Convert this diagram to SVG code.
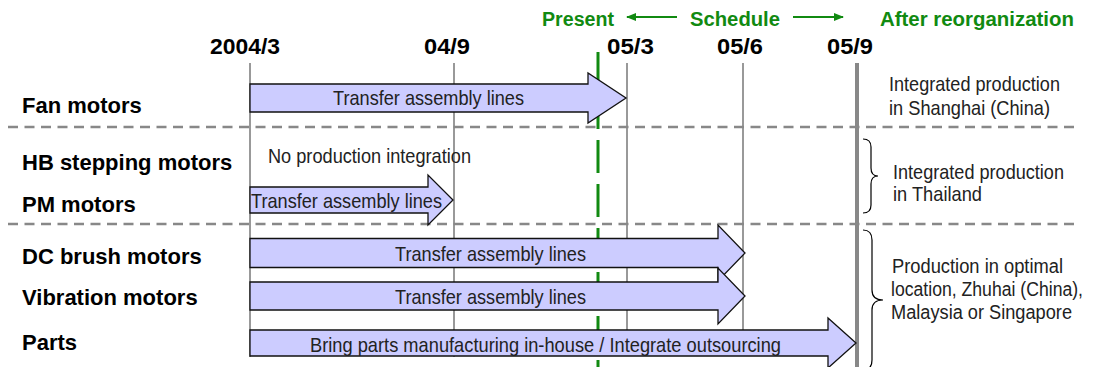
<svg xmlns="http://www.w3.org/2000/svg" width="1094" height="367" viewBox="0 0 1094 367">
<defs>
<style>
.hdr{font-family:"Liberation Sans",Arial,sans-serif;font-weight:bold;font-size:20px;fill:#118a11}
.date{font-family:"Liberation Sans",Arial,sans-serif;font-weight:bold;font-size:22px;fill:#000}
.row{font-family:"Liberation Sans",Arial,sans-serif;font-weight:bold;font-size:22px;fill:#000}
.nt{font-family:"Liberation Sans Narrow","Liberation Sans",Arial,sans-serif;font-size:21px;fill:#222}
.vl{stroke:#999;stroke-width:2;fill:none}
.hl{stroke:#888;stroke-width:2.5;stroke-dasharray:10 6.5;fill:none}
.arr{fill:#ccccff;stroke:#111;stroke-width:1.3;stroke-linejoin:miter}
.brace{fill:none;stroke:#000;stroke-width:1.2}
</style>
<marker id="gh" viewBox="0 0 10 10" refX="9" refY="5" markerWidth="10" markerHeight="10" markerUnits="userSpaceOnUse" orient="auto">
<path d="M0,1 L10,5 L0,9 z" fill="#118a11"/>
</marker>
</defs>
<rect width="1094" height="367" fill="#fff"/>

<g id="header">
<text class="hdr" x="542" y="26" textLength="72" lengthAdjust="spacingAndGlyphs">Present</text>
<text class="hdr" x="690" y="26" textLength="90" lengthAdjust="spacingAndGlyphs">Schedule</text>
<text class="hdr" x="880" y="26" textLength="194" lengthAdjust="spacingAndGlyphs">After reorganization</text>
<line x1="677" y1="17" x2="627" y2="17" stroke="#118a11" stroke-width="2" marker-end="url(#gh)"/>
<line x1="793" y1="17" x2="843" y2="17" stroke="#118a11" stroke-width="2" marker-end="url(#gh)"/>
</g>

<g id="dates">
<text class="date" x="210" y="54" textLength="70" lengthAdjust="spacingAndGlyphs">2004/3</text>
<text class="date" x="424" y="54" textLength="46" lengthAdjust="spacingAndGlyphs">04/9</text>
<text class="date" x="607" y="54" textLength="47" lengthAdjust="spacingAndGlyphs">05/3</text>
<text class="date" x="717" y="54" textLength="46" lengthAdjust="spacingAndGlyphs">05/6</text>
<text class="date" x="827" y="54" textLength="46" lengthAdjust="spacingAndGlyphs">05/9</text>
</g>

<g id="gridlines">
<line class="vl" x1="250" y1="63" x2="250" y2="357"/>
<line class="vl" x1="454" y1="63" x2="454" y2="357"/>
<line class="vl" x1="627" y1="63" x2="627" y2="340"/>
<line class="vl" x1="743" y1="63" x2="743" y2="340"/>
<line x1="857" y1="63" x2="857" y2="367" stroke="#888" stroke-width="4"/>
<line class="hl" x1="8" y1="127" x2="1075" y2="127"/>
<line class="hl" x1="8" y1="224" x2="1075" y2="224"/>
<line x1="598" y1="52" x2="598" y2="367" stroke="#118a11" stroke-width="3" stroke-dasharray="33 11"/>
</g>

<g id="rows">
<text class="row" x="22" y="113">Fan motors</text>
<text class="row" x="22" y="170">HB stepping motors</text>
<text class="row" x="22" y="212">PM motors</text>
<text class="row" x="22" y="264">DC brush motors</text>
<text class="row" x="22" y="305">Vibration motors</text>
<text class="row" x="22" y="350">Parts</text>
</g>

<g id="arrow-fan">
<path class="arr" d="M250,84 H588 V73 L626,98 L588,123 V112 H250 Z"/>
<text class="nt" x="333" y="105" textLength="191" lengthAdjust="spacingAndGlyphs">Transfer assembly lines</text>
</g>
<g id="note-hb">
<text class="nt" x="268" y="163" textLength="203" lengthAdjust="spacingAndGlyphs">No production integration</text>
</g>
<g id="arrow-pm">
<path class="arr" d="M250,187 H428 V175 L453,200 L428,225 V213 H250 Z"/>
<text class="nt" x="251" y="208" textLength="191" lengthAdjust="spacingAndGlyphs">Transfer assembly lines</text>
</g>
<g id="arrow-dc">
<path class="arr" d="M250,238.5 H718 V225 L745,253 L718,281 V267.5 H250 Z"/>
<text class="nt" x="395" y="261" textLength="191" lengthAdjust="spacingAndGlyphs">Transfer assembly lines</text>
</g>
<g id="arrow-vib">
<path class="arr" d="M250,282 H718 V268 L745,296 L718,324 V310 H250 Z"/>
<text class="nt" x="395" y="304" textLength="191" lengthAdjust="spacingAndGlyphs">Transfer assembly lines</text>
</g>
<g id="arrow-parts">
<path class="arr" d="M250,330 H828 V318 L856,343 L828,368 V356 H250 Z"/>
<text class="nt" x="310" y="352" textLength="471" lengthAdjust="spacingAndGlyphs">Bring parts manufacturing in-house / Integrate outsourcing</text>
</g>

<g id="result-shanghai">
<text class="nt" x="889" y="91" textLength="171" lengthAdjust="spacingAndGlyphs">Integrated production</text>
<text class="nt" x="889" y="115" textLength="161" lengthAdjust="spacingAndGlyphs">in Shanghai (China)</text>
</g>
<g id="result-thailand">
<path class="brace" d="M863,139 Q871,139 871,147 V168 Q871,176 878,176 Q871,176 871,184 V205 Q871,213 863,213"/>
<text class="nt" x="893" y="179" textLength="171" lengthAdjust="spacingAndGlyphs">Integrated production</text>
<text class="nt" x="893" y="201" textLength="89" lengthAdjust="spacingAndGlyphs">in Thailand</text>
</g>
<g id="result-optimal">
<path class="brace" d="M863,230 Q872,230 872,240 V290 Q872,300 883,300 Q872,300 872,310 V360 Q872,370 863,370"/>
<g transform="translate(891,0) scale(0.84,1)">
<text class="nt" x="1.2" y="273" textLength="203.6" lengthAdjust="spacingAndGlyphs">Production in optimal</text>
<text class="nt" x="0" y="296" textLength="228.6" lengthAdjust="spacingAndGlyphs">location, Zhuhai (China),</text>
<text class="nt" x="0" y="319" textLength="215.5" lengthAdjust="spacingAndGlyphs">Malaysia or Singapore</text>
</g>
</g>
</svg>
